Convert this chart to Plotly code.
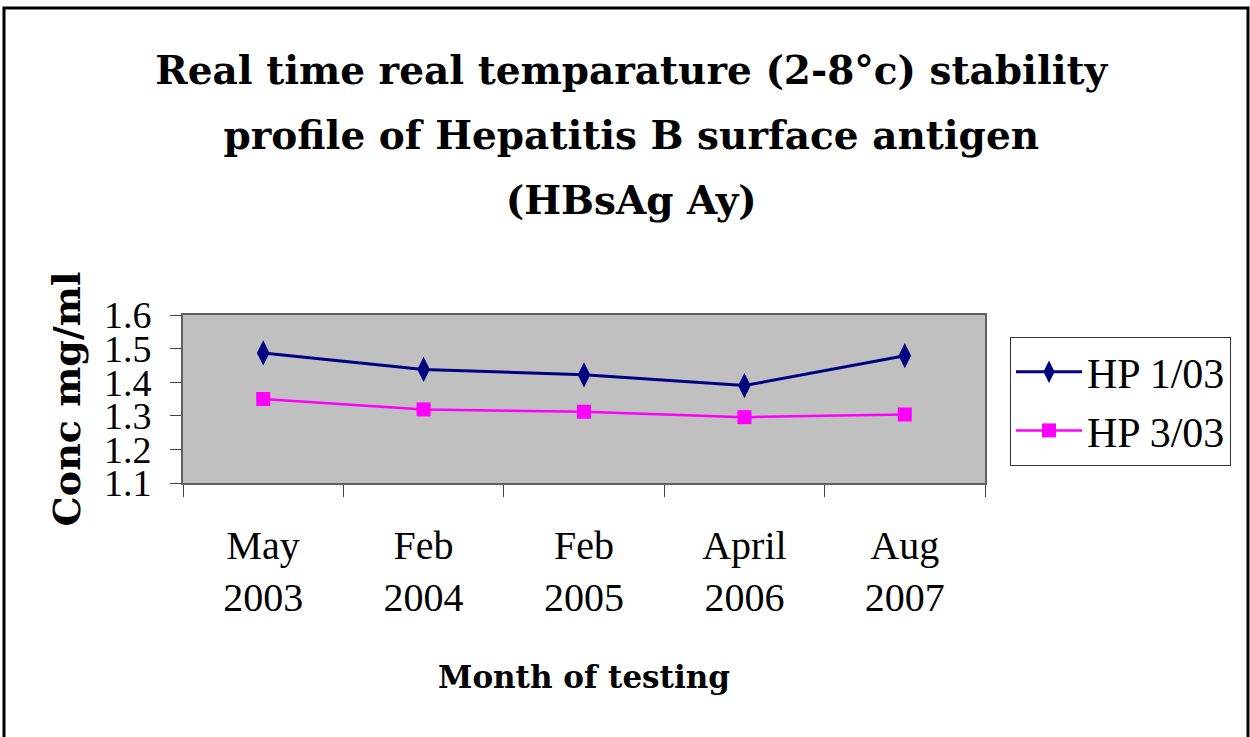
import plotly.graph_objects as go

# ---- data ----
categories = ["May 2003", "Feb 2004", "Feb 2005", "April 2006", "Aug 2007"]
tick_labels = ["May<br>2003", "Feb<br>2004", "Feb<br>2005", "April<br>2006", "Aug<br>2007"]
hp_1_03 = [1.487, 1.438, 1.422, 1.390, 1.479]
hp_3_03 = [1.350, 1.319, 1.312, 1.296, 1.304]
y_ticks = [1.1, 1.2, 1.3, 1.4, 1.5, 1.6]

title_lines = ["Real time real temparature (2-8°c) stability",
               "profile of Hepatitis B surface antigen",
               "(HBsAg Ay)"]

SERIF = "Liberation Serif, Times New Roman, serif"
BOLD = "DejaVu Serif, serif"

fig = go.Figure()
fig.add_trace(go.Scatter(
    x=categories, y=hp_1_03, name="HP 1/03", mode="lines+markers",
    line=dict(color="#000080", width=3),
    marker=dict(symbol="diamond-tall", size=18, color="#000080"),
    legendgroup="a",
))
fig.add_trace(go.Scatter(
    x=categories, y=hp_3_03, name="HP 3/03", mode="lines+markers",
    line=dict(color="#FF00FF", width=2.5),
    marker=dict(symbol="square", size=14, color="#FF00FF"),
    legendgroup="b",
))

title_html = "<br>".join(f"<span style='font-size:39px'>{t}</span>" for t in title_lines)

fig.update_layout(
    width=1250, height=737,
    margin=dict(l=183, r=265, t=315, b=254),
    paper_bgcolor="white",
    plot_bgcolor="#C0C0C0",
    title=dict(text=title_html, x=0.505, xanchor="center", y=1 - 84 / 737, yanchor="top",
               font=dict(family=BOLD, size=50, color="black", weight="bold")),
    xaxis=dict(
        type="category", range=[-0.5, 4.5],
        tickmode="array", tickvals=categories, ticktext=tick_labels,
        tickson="boundaries", ticks="outside", ticklen=12, tickcolor="#404040", tickwidth=1,
        showgrid=False, showline=True, linecolor="#606060", linewidth=2, mirror=True,
        tickfont=dict(family=SERIF, size=40, color="black"),
        ticklabelstandoff=26,
        title=dict(text="Month of testing", standoff=47,
                   font=dict(family=BOLD, size=31, color="black", weight="bold")),
    ),
    yaxis=dict(
        range=[1.1, 1.6], tickmode="array", tickvals=y_ticks,
        ticktext=[f"{v:.1f}" for v in y_ticks],
        ticks="outside", ticklen=11, tickcolor="#404040", tickwidth=1,
        showgrid=False, showline=True, linecolor="#606060", linewidth=2, mirror=True,
        tickfont=dict(family=SERIF, size=38, color="black"),
        ticklabelstandoff=11,
        title=dict(text="Conc mg/ml", standoff=12,
                   font=dict(family=BOLD, size=38, color="black", weight="bold")),
    ),
    legend=dict(
        x=(1010 - 183) / 802, y=(483 - 337) / 168, xanchor="left", yanchor="top",
        bgcolor="white", bordercolor="#333333", borderwidth=1,
        font=dict(family=SERIF, size=42, color="black"),
        itemwidth=66,
        tracegroupgap=1,
    ),
    showlegend=True,
)

# outer chart frame
fig.add_shape(type="rect", xref="paper", yref="paper",
              x0=(4 - 183) / 802, x1=(1248 - 183) / 802,
              y0=(483 - 760) / 168, y1=(483 - 8) / 168,
              line=dict(color="black", width=3), fillcolor="rgba(0,0,0,0)", layer="above")

fig.write_html("out.html", config={"displayModeBar": False},
               post_script="document.body.style.margin='0';")
